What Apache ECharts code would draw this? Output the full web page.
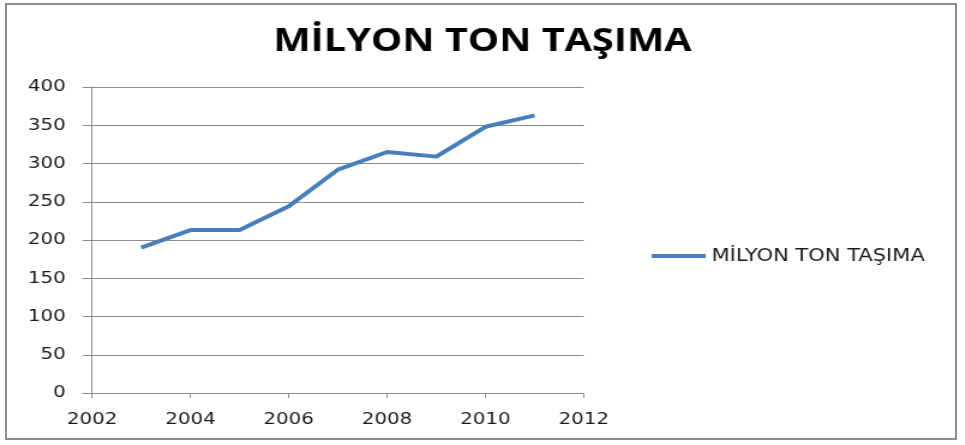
<!DOCTYPE html>
<html><head><meta charset="utf-8">
<script src="https://cdn.jsdelivr.net/npm/echarts@6/dist/echarts.min.js"></script>
<style>
html,body{margin:0;padding:0;background:#fff;overflow:hidden;}
#frame{position:absolute;left:5px;top:3px;width:948px;height:433px;border:2px solid #8c8c8c;box-sizing:content-box;}
/* the reference image is horizontally stretched (~1.2x); reproduce by stretching the chart canvas */
#c{position:absolute;left:0;top:0;width:804px;height:445px;transform:scaleX(1.2);transform-origin:0 0;}
</style></head>
<body>
<div id="frame"></div>
<div id="c"></div>
<script>
const titleText = "MİLYON TON TAŞIMA";
const seriesName = "MİLYON TON TAŞIMA";
const years = [2003, 2004, 2005, 2006, 2007, 2008, 2009, 2010, 2011];
const values = [190, 213, 213, 244, 292, 315, 309, 348, 363];
const xMin = 2002, xMax = 2012, xStep = 2;
const yMin = 0, yMax = 400, yStep = 50;

const chart = echarts.init(document.getElementById('c'), null, {renderer:'canvas', width:804, height:445});
const fontFam = "'DejaVu Sans', sans-serif";
chart.setOption({
  animation:false,
  backgroundColor:'transparent',
  title:{text:titleText,left:'center',top:20,
    textStyle:{fontFamily:"'Open Sans', sans-serif",fontWeight:'bold',fontSize:33,color:'#000'}},
  grid:{left:76.7,right:317.5,top:87,bottom:52,containLabel:false},
  legend:{left:538,top:242,icon:'rect',itemWidth:45,itemHeight:4,itemGap:10,
    textStyle:{fontFamily:fontFam,fontSize:17.5,color:'#1a1a1a'},
    data:[seriesName]},
  xAxis:{type:'value',min:xMin,max:xMax,interval:xStep,
    axisLine:{show:true,lineStyle:{color:'#8c8c8c',width:1}},
    axisTick:{show:true,length:5,inside:false,lineStyle:{color:'#8c8c8c'}},
    splitLine:{show:false},
    axisLabel:{fontFamily:fontFam,fontSize:16.5,color:'#1a1a1a',margin:18,formatter:v=>String(v)}},
  yAxis:{type:'value',min:yMin,max:yMax,interval:yStep,
    axisLine:{show:true,lineStyle:{color:'#8c8c8c',width:1}},
    axisTick:{show:true,length:8,lineStyle:{color:'#8c8c8c'}},
    splitLine:{show:true,lineStyle:{color:'#8c8c8c',width:1}},
    axisLabel:{fontFamily:fontFam,fontSize:16.5,color:'#1a1a1a',margin:22}},
  series:[{name:seriesName,type:'line',showSymbol:false,symbol:'none',
    data:years.map((y,i)=>[y,values[i]]),
    lineStyle:{color:'#4a7ebb',width:4},itemStyle:{color:'#4a7ebb'}}]
});
</script>
</body></html>
